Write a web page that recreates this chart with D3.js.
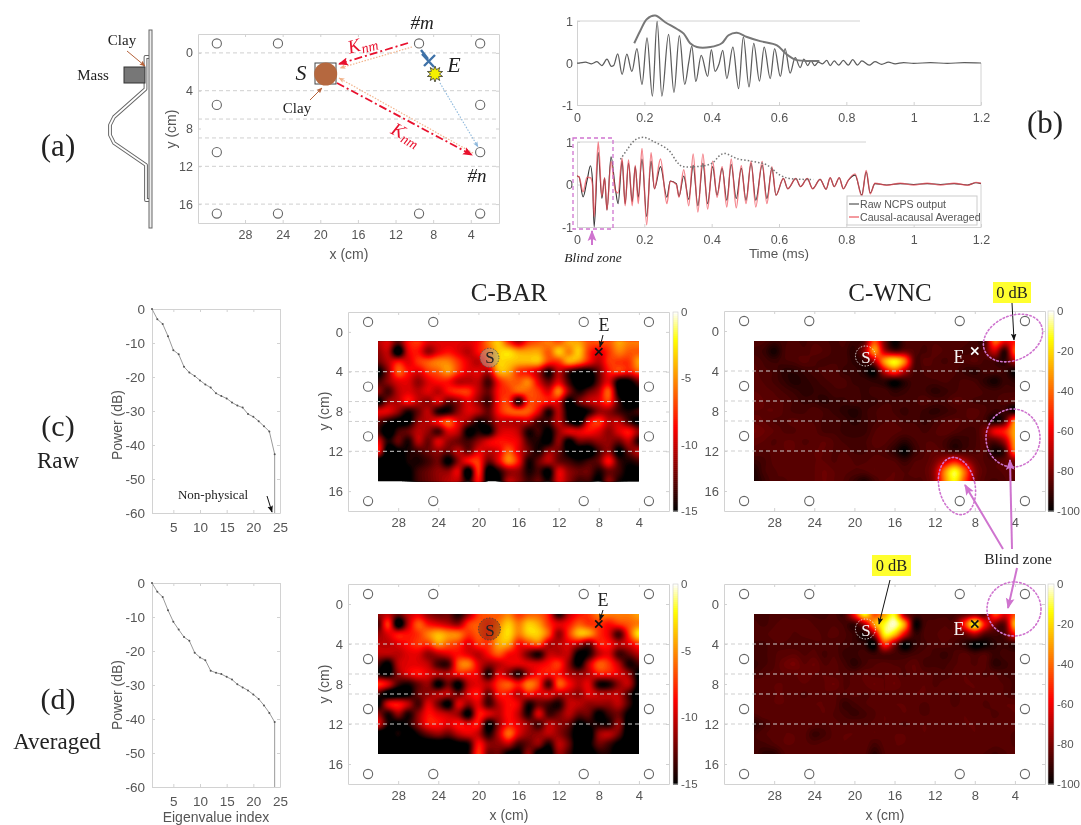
<!DOCTYPE html>
<html>
<head>
<meta charset="utf-8">
<script src="https://cdn.jsdelivr.net/npm/d3@7"></script>
<style>
  html, body { margin: 0; background: #fff; }
  svg { display: block; filter: blur(0.45px); }
  text { font-family: "Liberation Sans", Arial, sans-serif; fill: #555; }
  .serif { font-family: "Liberation Serif", "Times New Roman", serif; fill: #222; }
  .box .domain, .box line { stroke: #d2d2d2; }
  .box text { fill: #555; }
</style>
</head>
<body>
<svg id="fig" width="1081" height="825"></svg>
<script>
// eigenvalue spectra, dB
const eigIndex = d3.range(1, 25);
const powerRaw = [0, -3, -4.4, -8, -12.1, -13.3, -17, -18.7, -19.7, -21, -22.2, -23.1, -24.8, -25.6, -26.3, -27.5, -28.4, -29, -30.9, -31.7, -33, -34.5, -36, -42.7];
const powerAvg = [0, -2.6, -4.1, -8, -11.4, -13.7, -15.9, -17, -20.5, -21.9, -22.7, -25.8, -26.4, -26.8, -27.6, -28.4, -29.8, -30.7, -31.6, -32.8, -34.1, -36, -38.2, -40.9];

// top waveform (turning points), ms / normalized
const waveTopT = [0, .005, .025, .043, .059, .074, .089, .102, .109, .121, .134, .148, .163, .178, .193, .208, .224, .238, .252, .272, .288, .304, .32, .332, .341, .353, .369, .388, .399, .41, .422, .433, .445, .463, .48, .494, .511, .525, .542, .556, .574, .587, .604, .618, .633, .648, .663, .674, .685, .695, .706, .717, .729, .742, .752, .764, .777, .791, .806, .819, .833, .846, .868, .885, .905, .925, .945, .97, 1, 1.05, 1.1, 1.15, 1.2];
const waveTopV = [0, 0, .02, -.02, .03, -.06, .09, -.08, -.06, .22, -.27, .21, -.2, .34, -.51, .6, -.79, .99, -.79, .68, -.7, .65, -.51, .02, .4, -.44, .18, -.32, .32, -.2, -.02, .3, -.37, .38, -.61, .62, -.57, .47, -.43, .38, -.37, .34, -.32, .34, -.24, .13, -.11, .09, -.06, .05, -.06, .02, -.02, .06, -.06, .05, -.05, .06, -.05, .08, -.05, .05, -.05, .03, -.03, .02, -.02, .01, -.01, .01, -.01, .01, 0];
const envTopT = [.17, .188, .208, .232, .262, .297, .317, .336, .356, .396, .43, .45, .475, .505, .544, .594, .618, .648, .683, .72];
const envTopV = [.47, .77, 1.05, 1.13, .97, .81, .7, .47, .38, .38, .47, .66, .72, .62, .52, .42, .24, .08, .05, .05];

// bottom waveform, raw and averaged on the same turning points
const waveBotT = [0, .006, .018, .03, .04, .046, .051, .063, .074, .082, .089, .101, .114, .122, .134, .143, .153, .164, .173, .182, .193, .207, .22, .23, .248, .267, .277, .295, .303, .317, .332, .345, .359, .374, .388, .403, .416, .431, .445, .458, .473, .488, .502, .517, .531, .55, .564, .579, .591, .613, .626, .65, .664, .684, .7, .722, .74, .752, .764, .779, .791, .806, .826, .846, .859, .871, .885, .92, .96, 1, 1.04, 1.08, 1.12, 1.16, 1.185, 1.2];
const waveBotRaw = [.2, .18, -.29, .1, .44, .1, -1, .75, -.33, .15, -.6, .65, -.1, -.45, .55, -.45, .5, -.4, .42, -.3, .6, -.75, .55, -.1, .42, -.3, .08, .02, -.28, .2, -.35, .45, -.5, .5, -.45, .42, -.25, .38, -.37, .47, -.33, .38, -.37, .5, -.37, .46, -.33, .38, -.25, .14, -.1, .14, -.05, .14, -.1, .12, -.11, .16, -.05, .16, -.1, .1, .22, -.25, .3, -.2, .02, -.01, .02, 0, .02, 0, .02, -.01, .04, .02];
const waveBotAvg = [.2, .18, -.17, .17, .16, 0, -.76, 1, -.28, .16, -.6, .54, -.15, -.2, .62, -.5, .58, -.5, .45, -.45, .85, -.95, .75, -.1, .6, -.45, .08, 0, -.3, .35, -.5, .72, -.65, .72, -.58, .55, -.3, .42, -.53, .6, -.55, .44, -.45, .55, -.53, .54, -.45, .42, -.25, .14, -.1, .14, -.05, .14, -.1, .12, -.11, .16, -.05, .16, -.1, .1, .25, -.28, .33, -.22, .03, -.02, .03, -.01, .03, -.01, .03, -.02, .05, .03];
const envBotT = [.129, .148, .173, .198, .228, .272, .297, .312, .366, .401, .425, .44, .475, .524, .564, .603, .633, .702];
const envBotV = [.59, .81, 1.05, 1.11, 1.01, .81, .53, .43, .43, .5, .69, .73, .61, .54, .46, .22, .14, .12];

// images: columns x = 30..4 cm, rows y = 1..15 cm, values in dB
const gridX = d3.range(30, 3, -1);
const gridY = d3.range(1, 16);
const barRaw = [
  [-9,-8,-11,-7,-6,-8,-8,-8,-8,-8,-7,-4,-2,-6,-9,-6,-5,-4,-5,-3,-3,-5,-5,-5,-3,-4,-4],
  [-10,-9,-15,-8,-7,-10,-8,-7,-8,-9,-7,-5,-2,-1.5,-3,-3,-3,-5,-2,-4,-2,-6,-8,-6,-4,-5,-5],
  [-11,-9,-7,-8,-6,-5,-4,-4,-6,-8,-9,-6,-2,-2,-2.5,-2.5,-2.5,-6,-6,-3,-4,-7,-9,-6,-6,-6,-3],
  [-14,-10,-5,-7,-8,-6,-5,-3.5,-6,-8,-8,-9,-3,-3,-6,-7,-9,-13,-9,-12,-14,-14,-11,-7,-6,-7,-5],
  [-12,-10,-8,-8,-10,-8,-7,-7,-9,-9,-9,-12,-7,-5,-5,-4,-8,-11,-8,-12,-15,-15,-11,-8,-14,-14,-11],
  [-10,-12,-9,-8,-9,-8,-9,-7,-6,-6,-9,-11,-7,-6,-5,-5,-6,-8,-4,-10,-13,-11,-9,-5,-14,-15,-14],
  [-14,-10,-9,-7,-9,-10,-8,-11,-10,-8,-10,-12,-7,-6,-13,-6,-6,-7,-8,-14,-11,-9,-8,-6,-12,-15,-15],
  [-8,-8,-10,-13,-11,-9,-13,-13,-10,-8,-9,-11,-7,-5,-5,-5,-8,-13,-9,-14,-15,-13,-10,-10,-12,-13,-12],
  [-11,-13,-14,-14,-10,-9,-7,-5,-8,-10,-13,-12,-9,-9,-9,-9,-12,-12,-9,-13,-15,-8,-6,-9,-9,-12,-14],
  [-12,-15,-12,-11,-9,-10,-12,-8,-9,-14,-13,-14,-9,-8,-9,-13,-12,-14,-10,-8,-8,-7,-8,-10,-8,-7,-10],
  [-8,-13,-11,-13,-9,-11,-8,-10,-11,-12,-10,-8,-7,-7,-8,-12,-13,-14,-10,-14,-11,-11,-10,-10,-11,-9,-13],
  [-7,-15,-14,-13,-12,-11,-10,-11,-9,-11,-8,-9,-8,-5,-8,-11,-13,-10,-11,-14,-15,-15,-12,-10,-14,-11,-9],
  [-15,-15,-15,-13,-13,-12,-11,-14,-10,-7,-6,-11,-8,-4,-7,-13,-11,-9,-11,-12,-13,-12,-11,-7,-12,-13,-12],
  [-15,-15,-15,-14,-12,-11,-10,-10,-8,-15,-6,-15,-13,-10,-10,-13,-12,-14,-8,-10,-11,-11,-13,-11,-12,-14,-14],
  [-15,-15,-15,-14,-12,-11,-10,-9,-9,-13,-7,-15,-14,-9,-10,-12,-11,-13,-8,-10,-12,-12,-14,-10,-13,-14,-14]
];
const barAvg = [
  [-10,-9,-11,-9,-8,-10,-11,-11,-13,-10,-6,-5,-5,-4,-6,-5,-5,-7,-13,-9,-7,-6,-4,-4,-4,-4,-3],
  [-12,-6,-15,-9,-5,-7,-8,-9,-10,-6,-5,-6,-4,-2,-4,-2,-3,-6,-8,-7,-5,-6,-6,-7,-6,-5,-4],
  [-10,-8,-7,-7,-6,-4,-2.5,-3.5,-4,-6,-5,-6,-3,-1.5,-4,-2,-2,-5,-10,-6,-2.5,-3,-6,-8,-12,-6,-1],
  [-9,-9,-8,-7,-6,-6,-3.5,-5,-6,-8,-6,-6,-3,-3,-7,-6,-5,-9,-9,-8,-9,-11,-7,-7,-9,-8,-6],
  [-9,-9,-9,-8,-8,-10,-9,-8,-7,-8,-9,-7,-5,-7,-8,-11,-13,-9,-9,-9,-14,-13,-9,-8,-12,-11,-9],
  [-12,-14,-9,-8,-8,-9,-12,-12,-5,-4,-8,-10,-9,-8,-8,-8,-8,-7,-6,-10,-14,-9,-5,-6,-9,-13,-12],
  [-13,-14,-10,-8,-7,-8,-9,-9,-7,-7,-8,-13,-8,-10,-13,-9,-7,-7,-7,-9,-10,-9,-7,-7,-8,-10,-14],
  [-6,-8,-12,-13,-11,-10,-14,-11,-14,-9,-8,-9,-6,-5,-7,-4,-6,-12,-5,-7,-9,-8,-13,-13,-10,-9,-14],
  [-12,-15,-15,-14,-11,-10,-9,-9,-11,-8,-7,-11,-7,-7,-9,-7,-8,-8,-9,-9,-10,-8,-9,-9,-9,-12,-15],
  [-14,-8,-7,-9,-12,-8,-11,-14,-8,-10,-8,-12,-9,-7,-8,-13,-11,-12,-13,-9,-9,-10,-10,-10,-9,-12,-15],
  [-10,-13,-10,-13,-10,-7,-8,-9,-10,-14,-7,-8,-9,-7,-9,-13,-8,-12,-11,-9,-11,-11,-14,-12,-11,-14,-15],
  [-8,-13,-14,-13,-10,-7,-7,-8,-7,-8,-7,-14,-10,-7,-8,-10,-12,-9,-10,-11,-14,-13,-13,-13,-10,-15,-15],
  [-15,-15,-13,-15,-13,-11,-10,-11,-9,-8,-9,-13,-9,-4.5,-8,-10,-10,-9,-10,-12,-15,-15,-10,-9,-11,-15,-15],
  [-15,-15,-15,-15,-15,-15,-15,-15,-14,-13,-7,-10,-10,-9,-12,-11,-10,-13,-9,-11,-15,-14,-11,-12,-14,-15,-15],
  [-15,-15,-15,-15,-15,-15,-15,-15,-15,-13,-6,-11,-11,-14,-14,-10,-15,-15,-10,-12,-15,-15,-13,-13,-15,-15,-15]
];
const wncRaw = [
  [-86,-87,-90,-88,-87,-88,-86,-87,-88,-87,-90,-85,-45,-80,-99,-88,-86,-87,-86,-87,-86,-87,-88,-88,-40,-60,-55],
  [-88,-90,-96,-88,-86,-87,-85,-86,-88,-88,-92,-75,-30,-70,-85,-82,-86,-88,-85,-86,-87,-88,-88,-85,-65,-92,-42],
  [-86,-88,-90,-88,-87,-85,-87,-88,-88,-88,-92,-90,-70,-30,-14,-35,-85,-85,-86,-88,-86,-87,-85,-88,-88,-92,-70],
  [-85,-87,-88,-92,-92,-90,-88,-87,-86,-90,-90,-94,-98,-65,-45,-68,-88,-87,-86,-86,-87,-90,-92,-88,-88,-90,-98],
  [-85,-86,-88,-91,-94,-92,-90,-88,-87,-87,-90,-90,-92,-92,-98,-92,-88,-88,-88,-87,-88,-87,-88,-92,-96,-90,-92],
  [-84,-85,-86,-88,-90,-92,-91,-90,-88,-88,-88,-90,-88,-88,-92,-90,-88,-89,-92,-90,-88,-86,-86,-88,-89,-88,-88],
  [-82,-84,-85,-86,-88,-90,-90,-92,-90,-90,-88,-90,-90,-88,-88,-88,-88,-86,-88,-88,-85,-86,-88,-88,-88,-86,-86],
  [-84,-84,-84,-86,-88,-88,-86,-88,-90,-92,-94,-90,-88,-86,-88,-90,-88,-90,-92,-90,-88,-86,-85,-87,-90,-90,-98],
  [-83,-84,-86,-86,-85,-86,-86,-88,-88,-90,-92,-90,-88,-86,-86,-88,-88,-90,-88,-86,-85,-86,-86,-88,-96,-85,-35],
  [-80,-82,-84,-86,-86,-84,-85,-88,-88,-90,-90,-90,-86,-84,-85,-86,-86,-88,-86,-84,-86,-88,-88,-80,-60,-52,-28],
  [-83,-84,-86,-84,-84,-86,-85,-84,-86,-88,-89,-88,-85,-85,-88,-92,-88,-86,-86,-88,-92,-90,-88,-84,-85,-70,-30],
  [-85,-86,-85,-84,-84,-85,-84,-84,-86,-86,-88,-88,-86,-87,-92,-99,-90,-86,-84,-86,-90,-88,-87,-86,-96,-88,-38],
  [-90,-88,-85,-84,-85,-85,-84,-84,-86,-84,-86,-86,-85,-85,-86,-90,-86,-85,-80,-68,-55,-70,-82,-86,-87,-84,-78],
  [-94,-88,-86,-85,-84,-84,-84,-82,-84,-85,-86,-86,-84,-85,-84,-86,-85,-84,-74,-35,-12,-40,-76,-85,-86,-85,-82],
  [-95,-90,-86,-86,-85,-84,-84,-82,-84,-86,-90,-94,-88,-84,-84,-86,-86,-85,-75,-35,-14,-45,-78,-86,-88,-86,-84]
];
const wncAvg = [
  [-88,-88,-87,-86,-87,-87,-88,-88,-87,-88,-55,-12,-45,-30,-14,-75,-88,-88,-88,-88,-88,-85,-80,-85,-45,-62,-45],
  [-87,-88,-86,-85,-85,-84,-86,-87,-86,-88,-90,-70,-30,-12,-2,-30,-96,-88,-87,-86,-84,-50,-12,-55,-78,-82,-25],
  [-86,-86,-85,-84,-86,-85,-85,-86,-85,-87,-90,-94,-70,-14,-22,-60,-90,-87,-86,-85,-85,-82,-70,-85,-88,-86,-55],
  [-88,-88,-86,-86,-87,-87,-86,-86,-87,-88,-90,-92,-100,-50,-75,-100,-92,-88,-87,-86,-88,-92,-100,-98,-92,-90,-92],
  [-88,-88,-86,-85,-84,-86,-85,-88,-86,-90,-90,-88,-90,-86,-88,-90,-88,-87,-88,-90,-87,-85,-88,-86,-90,-88,-88],
  [-90,-88,-86,-82,-80,-84,-82,-86,-85,-88,-92,-88,-86,-85,-86,-86,-84,-88,-88,-88,-86,-85,-86,-85,-92,-90,-88],
  [-88,-86,-85,-84,-84,-82,-84,-84,-85,-86,-86,-84,-85,-84,-84,-86,-84,-85,-86,-87,-85,-84,-85,-86,-86,-88,-88],
  [-84,-85,-84,-84,-85,-84,-85,-84,-82,-86,-85,-84,-82,-84,-82,-85,-85,-84,-86,-85,-85,-84,-84,-85,-85,-86,-88],
  [-86,-85,-84,-84,-85,-86,-85,-84,-85,-86,-85,-86,-85,-84,-85,-85,-84,-84,-85,-85,-86,-85,-84,-85,-84,-86,-88],
  [-84,-85,-84,-84,-85,-85,-84,-84,-85,-90,-88,-86,-85,-85,-84,-84,-85,-86,-85,-85,-86,-85,-84,-86,-85,-84,-84],
  [-86,-84,-85,-85,-84,-85,-85,-84,-86,-88,-90,-88,-86,-84,-85,-84,-85,-86,-85,-84,-85,-84,-85,-85,-86,-85,-84],
  [-92,-88,-85,-84,-85,-84,-85,-86,-85,-86,-85,-86,-85,-84,-85,-86,-85,-84,-85,-84,-85,-84,-84,-85,-85,-84,-85],
  [-88,-86,-85,-84,-84,-85,-90,-88,-85,-84,-84,-85,-84,-85,-84,-84,-85,-84,-85,-84,-85,-85,-84,-85,-84,-85,-86],
  [-88,-88,-86,-84,-84,-85,-86,-85,-85,-84,-85,-84,-88,-85,-84,-84,-85,-85,-84,-85,-84,-85,-85,-84,-85,-85,-86],
  [-88,-92,-92,-86,-85,-84,-84,-85,-84,-84,-85,-85,-92,-86,-84,-85,-85,-84,-85,-85,-84,-85,-85,-86,-88,-86,-85]
];

// plate layout, cm
const sensorsX = [31, 3, 31, 3, 31, 24.5, 9.5, 3, 31, 24.5, 9.5, 3];
const sensorsY = [5.5, 5.5, 10.5, 10.5, -1, -1, -1, -1, 17, 17, 17, 17];
const cmTicksX = [28, 24, 20, 16, 12, 8, 4];
const cmTicksY = [0, 4, 8, 12, 16];
const stiffenersAll = [0, 4, 7, 9, 12, 16];
const stiffenersHeat = [4, 7, 9, 12];
const barBarTicks = [0, -5, -10, -15];
const wncBarTicks = [0, -20, -40, -60, -80, -100];
const timeTicks = [0, .2, .4, .6, .8, 1, 1.2];
const ampTicks = [-1, 0, 1];
const eigTicks = [5, 10, 15, 20, 25];
const powerTicks = [0, -10, -20, -30, -40, -50, -60];

const PURPLE = "#cf74cf";
const svg = d3.select("#fig");
const defs = svg.append("defs");

function marker(id, color, size) {
  defs.append("marker").attr("id", id)
    .attr("viewBox", "0 0 10 10").attr("refX", 9).attr("refY", 5)
    .attr("markerWidth", size).attr("markerHeight", size)
    .attr("markerUnits", "userSpaceOnUse").attr("orient", "auto")
    .append("path").attr("d", "M0,1L10,5L0,9L2,5z").attr("fill", color);
}
marker("a-black", "#111", 7);
marker("a-red", "#e8112d", 10);
marker("a-purple", PURPLE, 11);
marker("a-brown", "#b5623a", 6);
marker("a-blue", "#8db8dc", 6);
marker("a-pale", "#f2b48c", 6);

function label(txt, x, y, size, opts = {}) {
  const t = svg.append("text").attr("x", x).attr("y", y)
    .attr("text-anchor", opts.anchor || "middle")
    .attr("dominant-baseline", "central")
    .attr("font-size", size).text(txt);
  if (opts.serif) t.attr("class", "serif");
  if (opts.italic) t.attr("font-style", "italic");
  if (opts.fill) t.style("fill", opts.fill);
  if (opts.rotate) t.attr("transform", `rotate(${opts.rotate} ${x} ${y})`);
  return t;
}

function arrow(x1, y1, x2, y2, color, width, mark, dash) {
  const l = svg.append("line").attr("x1", x1).attr("y1", y1).attr("x2", x2).attr("y2", y2)
    .attr("stroke", color).attr("stroke-width", width);
  if (mark) l.attr("marker-end", `url(#${mark})`);
  if (dash) l.attr("stroke-dasharray", dash);
}

// box with labels on left/bottom and short inward ticks on all sides
function boxAxes(g, x, y, xTicks, yTicks, padX, padY, font, xFmt) {
  const h = y.range()[1];
  const bottom = g.append("g").attr("class", "box").attr("transform", `translate(0,${h})`)
    .call(d3.axisBottom(x).tickValues(xTicks).tickSize(-3).tickSizeOuter(0).tickPadding(padX).tickFormat(xFmt || (d => d)));
  const left = g.append("g").attr("class", "box")
    .call(d3.axisLeft(y).tickValues(yTicks).tickSize(-3).tickSizeOuter(0).tickPadding(padY).tickFormat(d => d));
  bottom.selectAll("text").attr("font-size", font).attr("font-family", null);
  left.selectAll("text").attr("font-size", font).attr("font-family", null);
}
function closeBox(g, x, y, xTicks, yTicks) {
  g.append("g").attr("class", "box")
    .call(d3.axisTop(x).tickValues(xTicks).tickSize(-3).tickSizeOuter(0).tickFormat(""));
  g.append("g").attr("class", "box").attr("transform", `translate(${x.range()[1]},0)`)
    .call(d3.axisRight(y).tickValues(yTicks).tickSize(-3).tickSizeOuter(0).tickFormat(""));
}

// plate axes shared by (a) and the image panels
function plateAxes(left, top, width, height, font) {
  const g = svg.append("g").attr("transform", `translate(${left},${top})`);
  const x = d3.scaleLinear().domain([33, 1]).range([0, width]);
  const y = d3.scaleLinear().domain([-2, 18]).range([0, height]);
  return { g, x, y, font };
}
function drawPlateFrame(p) {
  boxAxes(p.g, p.x, p.y, cmTicksX, cmTicksY, 7, 5, p.font);
  closeBox(p.g, p.x, p.y, cmTicksX, cmTicksY);
}
function drawStiffeners(p, levels) {
  p.g.append("g").selectAll("line").data(levels).join("line")
    .attr("x1", 0).attr("x2", p.x.range()[1])
    .attr("y1", d => p.y(d)).attr("y2", d => p.y(d))
    .attr("stroke", "#cfcfcf").attr("stroke-dasharray", "4 3");
}
function drawSensors(p) {
  p.g.append("g").selectAll("circle").data(sensorsX).join("circle")
    .attr("cx", d => p.x(d)).attr("cy", (d, i) => p.y(sensorsY[i]))
    .attr("r", 4.6).attr("fill", "none").attr("stroke", "#666").attr("stroke-width", 1.1);
}

// ---- image panels
const hot = d3.scaleLinear().domain([0, .42, .86, 1]).range(["#000", "#f00", "#ff0", "#fff"]).clamp(true);

function catmull(a, b, c, d, t) {
  return .5 * (2 * b + (c - a) * t + (2 * a - 5 * b + 4 * c - d) * t * t + (3 * b - a - 3 * c + d) * t * t * t);
}
function upsample(grid, f, lo, hi) {
  const R = grid.length, C = grid[0].length;
  const W = (C - 1) * f + 1, H = (R - 1) * f + 1, out = new Float64Array(W * H);
  const rowAt = r => grid[Math.max(0, Math.min(R - 1, r))];
  const at = (row, c) => row[Math.max(0, Math.min(C - 1, c))];
  for (let j = 0; j < H; j++) {
    const r = Math.min(R - 2, Math.floor(j / f)), v = j / f - r;
    for (let i = 0; i < W; i++) {
      const c = Math.min(C - 2, Math.floor(i / f)), u = i / f - c;
      const col = [-1, 0, 1, 2].map(k => {
        const row = rowAt(r + k);
        return catmull(at(row, c - 1), at(row, c), at(row, c + 1), at(row, c + 2), u);
      });
      out[j * W + i] = Math.max(lo, Math.min(hi, catmull(col[0], col[1], col[2], col[3], v)));
    }
  }
  return { out, W, H };
}

let clipId = 0;
function heatPanel(left, top, width, height, grid, lo, barTicks, barX, barW, shade) {
  const p = plateAxes(left, top, width, height, 13);
  const color = d3.scaleLinear().domain([lo, 0]).range([0, 1]);
  const f = 5;
  // one repeated row/column around the grid keeps contour edges outside the clip
  const padded = [grid[0], ...grid, grid[grid.length - 1]].map(r => [r[0], ...r, r[r.length - 1]]);
  const { out, W, H } = upsample(padded, f, lo, 0);
  const levels = d3.range(lo, 0, -lo / 56);
  const contours = d3.contours().size([W, H]).thresholds(levels)(out);
  const path = d3.geoPath(d3.geoTransform({
    point(cx, cy) {
      this.stream.point(p.x(gridX[0] + 1 - (cx - .5) / f), p.y(gridY[0] - 1 + (cy - .5) / f));
    }
  }));
  const id = "heat" + clipId++;
  const rx = p.x(gridX[0]), ry = p.y(gridY[0]);
  const rw = p.x(gridX[gridX.length - 1]) - rx, rh = p.y(gridY[gridY.length - 1]) - ry;
  defs.append("clipPath").attr("id", id).append("rect")
    .attr("x", rx).attr("y", ry).attr("width", rw).attr("height", rh);
  const img = p.g.append("g").attr("clip-path", `url(#${id})`);
  img.append("rect").attr("x", rx).attr("y", ry).attr("width", rw).attr("height", rh).attr("fill", "#000");
  img.selectAll("path").data(contours).join("path")
    .attr("d", path).attr("fill", d => hot(color(d.value + shade)));

  drawPlateFrame(p);
  drawStiffeners(p, stiffenersHeat);
  drawSensors(p);

  // colorbar
  const by = d3.scaleLinear().domain([0, lo]).range([0, height]);
  const bar = p.g.append("g").attr("transform", `translate(${barX},0)`);
  bar.selectAll("rect").data(d3.range(0, -lo, -lo / 100)).join("rect")
    .attr("y", d => by(-d)).attr("width", barW).attr("height", height / 100 + .6)
    .attr("fill", d => hot(color(-d - (-lo / 200))));
  bar.append("rect").attr("width", barW).attr("height", height)
    .attr("fill", "none").attr("stroke", "#ccc").attr("stroke-width", .6);
  bar.selectAll("text").data(barTicks).join("text")
    .attr("x", barW + 3).attr("y", d => by(d)).attr("dominant-baseline", "central")
    .attr("font-size", 11.5).text(d => d);
  return p;
}

const barRawP = heatPanel(348, 312, 321, 199, barRaw, -15, barBarTicks, 325, 5, -1.3);
const wncRawP = heatPanel(724, 311, 321, 200, wncRaw, -100, wncBarTicks, 324, 6, 0);
const barAvgP = heatPanel(348, 584, 321, 200, barAvg, -15, barBarTicks, 325, 5, -1.3);
const wncAvgP = heatPanel(724, 584, 321, 200, wncAvg, -100, wncBarTicks, 324, 6, 0);

label("y (cm)", 324, 411, 14, { rotate: -90 });
label("y (cm)", 324, 684, 14, { rotate: -90 });
label("x (cm)", 509, 815, 14);
label("x (cm)", 885, 815, 14);
label("C-BAR", 509, 292, 25, { serif: true });
label("C-WNC", 890, 292, 25, { serif: true });

// source / exciter marks on the images
function mark(p, x, y, color) {
  const px = p.x(x), py = p.y(y), s = 3.6;
  p.g.append("path").attr("d", `M${px - s},${py - s}L${px + s},${py + s}M${px - s},${py + s}L${px + s},${py - s}`)
    .attr("stroke", color).attr("stroke-width", 1.7);
}
function sourceRing(p, x, y, r, fill, stroke, dash) {
  p.g.append("circle").attr("cx", p.x(x)).attr("cy", p.y(y)).attr("r", r)
    .attr("fill", fill).attr("stroke", stroke).attr("stroke-width", .9).attr("stroke-dasharray", dash);
}
sourceRing(barRawP, 18.9, 2.6, 9.5, "rgba(170,170,150,.55)", "#555", "1.5 1.5");
sourceRing(barAvgP, 18.9, 2.5, 11, "rgba(150,40,20,.55)", "#444", "1.5 1.5");
sourceRing(wncRawP, 18.9, 2.5, 10, "none", "#eee", "1.5 1.5");
sourceRing(wncAvgP, 18.9, 2.5, 10, "none", "#eee", "1.5 1.5");
[barRawP, barAvgP].forEach(p => mark(p, 8, 2, "#111"));
mark(wncRawP, 8, 2, "#fff");
mark(wncAvgP, 8, 2, "#111");

label("S", 490, 357, 17, { serif: true });
label("S", 490, 630, 17, { serif: true });
label("S", 866, 357, 17, { serif: true, fill: "#f4f4f4" });
label("S", 866, 630, 17, { serif: true, fill: "#f4f4f4" });
label("E", 604, 325, 18, { serif: true });
label("E", 603, 600, 18, { serif: true });
label("E", 959, 357, 18, { serif: true, fill: "#f4f4f4" });
label("E", 959, 629, 18, { serif: true, fill: "#f4f4f4" });
arrow(603, 335, 600, 347, "#111", 1, "a-black");
arrow(603, 610, 600, 620, "#111", 1, "a-black");

// 0 dB callouts
function callout(x, y, w, h) {
  svg.append("rect").attr("x", x).attr("y", y).attr("width", w).attr("height", h).attr("fill", "#ffff2e");
  label("0 dB", x + w / 2, y + h / 2, 16.5, { serif: true });
}
callout(993, 282, 38, 21);
callout(872, 555, 39, 21);
arrow(1012, 303, 1014, 340, "#111", 1, "a-black");
arrow(890, 580, 879, 624, "#111", 1, "a-black");

// blind zone ellipses and arrows
function ell(cx, cy, rx, ry, rot) {
  svg.append("ellipse").attr("cx", 0).attr("cy", 0).attr("rx", rx).attr("ry", ry)
    .attr("transform", `translate(${cx},${cy}) rotate(${rot})`)
    .attr("fill", "none").attr("stroke", PURPLE).attr("stroke-width", 1.6)
    .attr("stroke-dasharray", "1.5 2.4").attr("stroke-linecap", "round");
}
ell(1013, 338, 31, 22, -25);
ell(1013, 438, 27, 29, 0);
ell(957, 486, 18, 29, -12);
ell(1014, 609, 27, 27, 0);
label("Blind zone", 1018, 558, 15.5, { serif: true });
arrow(1003, 549, 965, 485, PURPLE, 2, "a-purple");
arrow(1012, 549, 1010, 460, PURPLE, 2, "a-purple");
arrow(1017, 568, 1008, 608, PURPLE, 2, "a-purple");

// ---- eigenvalue spectra
function powerPanel(top, height, values) {
  const g = svg.append("g").attr("transform", `translate(152,${top})`);
  const x = d3.scaleLinear().domain([1, 25]).range([0, 128]);
  const y = d3.scaleLinear().domain([0, -60]).range([0, height]);
  boxAxes(g, x, y, eigTicks, powerTicks, 9, 7, 13.5);
  closeBox(g, x, y, eigTicks, powerTicks);
  const line = d3.line().x((d, i) => x(i < 24 ? eigIndex[i] : 24)).y(d => y(d));
  g.append("path").datum(values.concat(-60)).attr("d", line)
    .attr("fill", "none").attr("stroke", "#9a9a9a").attr("stroke-width", 1);
  g.append("g").selectAll("circle").data(values).join("circle")
    .attr("cx", (d, i) => x(eigIndex[i])).attr("cy", d => y(d)).attr("r", 1).attr("fill", "#555");
}
powerPanel(309, 204, powerRaw);
powerPanel(583, 204, powerAvg);
label("Power (dB)", 117, 425, 14, { rotate: -90 });
label("Power (dB)", 117, 695, 14, { rotate: -90 });
label("Eigenvalue index", 216, 817, 14);
label("Non-physical", 213, 494, 13, { serif: true });
arrow(267, 496, 272, 512, "#111", 1, "a-black");

label("(c)", 58, 425, 30, { serif: true });
label("Raw", 58, 460, 23, { serif: true });
label("(d)", 58, 698, 30, { serif: true });
label("Averaged", 57, 741, 23, { serif: true });
label("(a)", 58, 145, 31, { serif: true });
label("(b)", 1045, 122, 31, { serif: true });

// ---- waveforms
const ampX = d3.scaleLinear().domain([0, 1.2]).range([0, 404]);
function wavePanel(top, height, topEnd) {
  const g = svg.append("g").attr("transform", `translate(577,${top})`);
  const y = d3.scaleLinear().domain([1, -1]).range([0, height]);
  boxAxes(g, ampX, y, timeTicks, ampTicks, 8, 4, 12.5, d => d);
  g.append("line").attr("x1", 0).attr("x2", topEnd).attr("stroke", "#d2d2d2");
  g.append("line").attr("x1", 404).attr("x2", 404).attr("y1", height * .5).attr("y2", height).attr("stroke", "#d2d2d2");
  return { g, y };
}
function trace(p, ts, vs, color, width, curve, dash, op) {
  const line = d3.line().x(d => ampX(d)).y((d, i) => p.y(vs[i])).curve(curve);
  p.g.append("path").datum(ts).attr("d", line).attr("fill", "none")
    .attr("stroke", color).attr("stroke-width", width)
    .attr("stroke-dasharray", dash).attr("stroke-opacity", op || 1);
}
const wTop = wavePanel(21, 84, 283);
trace(wTop, waveTopT, waveTopV, "#5c5c5c", 1.25, d3.curveMonotoneX);
trace(wTop, envTopT, envTopV, "#777", 2, d3.curveCatmullRom);

const wBot = wavePanel(142, 85, 289);
trace(wBot, waveBotT, waveBotRaw, "#333", 1.1, d3.curveMonotoneX);
trace(wBot, waveBotT, waveBotAvg, "#ee4a55", 1.4, d3.curveMonotoneX, null, .7);
trace(wBot, envBotT, envBotV, "#777", 1.5, d3.curveCatmullRom, "1.5 2");

// legend
const leg = svg.append("g").attr("transform", "translate(847,196)");
leg.append("rect").attr("width", 130).attr("height", 29).attr("fill", "#fff").attr("stroke", "#ccc");
leg.append("line").attr("x1", 2).attr("x2", 12).attr("y1", 8).attr("y2", 8).attr("stroke", "#333");
leg.append("line").attr("x1", 2).attr("x2", 12).attr("y1", 21).attr("y2", 21).attr("stroke", "#e8353f");
leg.append("text").attr("x", 13).attr("y", 8).attr("dominant-baseline", "central").attr("font-size", 10.6).text("Raw NCPS output");
leg.append("text").attr("x", 13).attr("y", 21).attr("dominant-baseline", "central").attr("font-size", 10.6).text("Causal-acausal Averaged");

label("Time (ms)", 779, 253, 13.5);
label("Blind zone", 593, 257, 13.5, { serif: true, italic: true });
svg.append("rect").attr("x", 573).attr("y", 138).attr("width", 40).attr("height", 91)
  .attr("fill", "none").attr("stroke", PURPLE).attr("stroke-width", 1.3).attr("stroke-dasharray", "4 3");
arrow(592, 245, 592, 231, PURPLE, 2, "a-purple");

// ---- (a) sketch
const pa = plateAxes(198, 34, 301, 189, 12.5);
drawPlateFrame(pa);
drawStiffeners(pa, stiffenersAll);
drawSensors(pa);
label("y (cm)", 171, 129, 14, { rotate: -90 });
label("x (cm)", 349, 254, 14);

// stringer and skin, left of the plate
const hat = [[149, 57], [145.5, 57], [145.5, 89], [114, 117], [110, 125], [110, 135], [114, 143], [146, 165], [146, 200], [149, 200]];
const hatLine = d3.line();
svg.append("path").attr("d", hatLine(hat)).attr("fill", "none").attr("stroke", "#666").attr("stroke-width", 3.8).attr("stroke-linejoin", "round");
svg.append("path").attr("d", hatLine(hat)).attr("fill", "none").attr("stroke", "#fff").attr("stroke-width", 1.8).attr("stroke-linejoin", "round");
svg.append("rect").attr("x", 149).attr("y", 30).attr("width", 3).attr("height", 198).attr("fill", "#eee").attr("stroke", "#666");
svg.append("rect").attr("x", 124).attr("y", 67).attr("width", 21).attr("height", 16).attr("fill", "#777").attr("stroke", "#333");
label("Clay", 122, 40, 15, { serif: true });
label("Mass", 93, 75, 15, { serif: true });
arrow(127, 51, 145, 66, "#b5623a", 1, "a-brown");

// clay patch
svg.append("rect").attr("x", 315).attr("y", 63).attr("width", 21).attr("height", 21).attr("fill", "none").attr("stroke", "#444");
svg.append("circle").attr("cx", 325.7).attr("cy", 74).attr("r", 11.5).attr("fill", "#b5683f");
label("S", 301, 72, 22, { serif: true, italic: true });
label("Clay", 297, 108, 15, { serif: true });
arrow(310, 100, 322, 88, "#b5623a", 1, "a-brown");

// paths between transducers
arrow(412, 47, 340, 68, "#f2b48c", 1.2, "a-pale", "1.5 1.5");
arrow(473, 153, 339, 78, "#f2b48c", 1.2, "a-pale", "1.5 1.5");
arrow(408, 43, 339, 64, "#e8112d", 1.8, "a-red", "8 3 2 3");
arrow(337, 83, 472, 155, "#e8112d", 1.8, "a-red", "8 3 2 3");
arrow(440, 83, 478, 147, "#8db8dc", 1.1, "a-blue", "1.5 1.5");

// exciter: spiky burst at E and blue cross
const burstR = d3.range(20).map(i => i % 2 ? 4.5 : 8);
svg.append("path")
  .attr("d", d3.lineRadial().angle((d, i) => i / 20 * 2 * Math.PI).radius(d => d).curve(d3.curveLinearClosed)(burstR))
  .attr("transform", "translate(435,74)").attr("fill", "#f5f000").attr("stroke", "#333").attr("stroke-width", .8);
svg.append("path").attr("d", "M422,54L434,67M424,66L435,55M421,50L428,59")
  .attr("stroke", "#3f72a8").attr("stroke-width", 2.4).attr("fill", "none");
label("E", 454, 64, 22, { serif: true, italic: true });
label("#m", 422, 22, 19, { serif: true, italic: true });
label("#n", 477, 175, 19, { serif: true, italic: true });

function knm(x, y, rot) {
  const t = svg.append("text").attr("transform", `translate(${x},${y}) rotate(${rot})`)
    .attr("class", "serif").attr("text-anchor", "middle").attr("font-style", "italic").style("fill", "#e8112d");
  t.append("tspan").attr("font-size", 19).text("K");
  t.append("tspan").attr("font-size", 14).attr("dy", 3).text("nm");
}
knm(364, 50, -15);
knm(403, 140, 28);
</script>
</body>
</html>
